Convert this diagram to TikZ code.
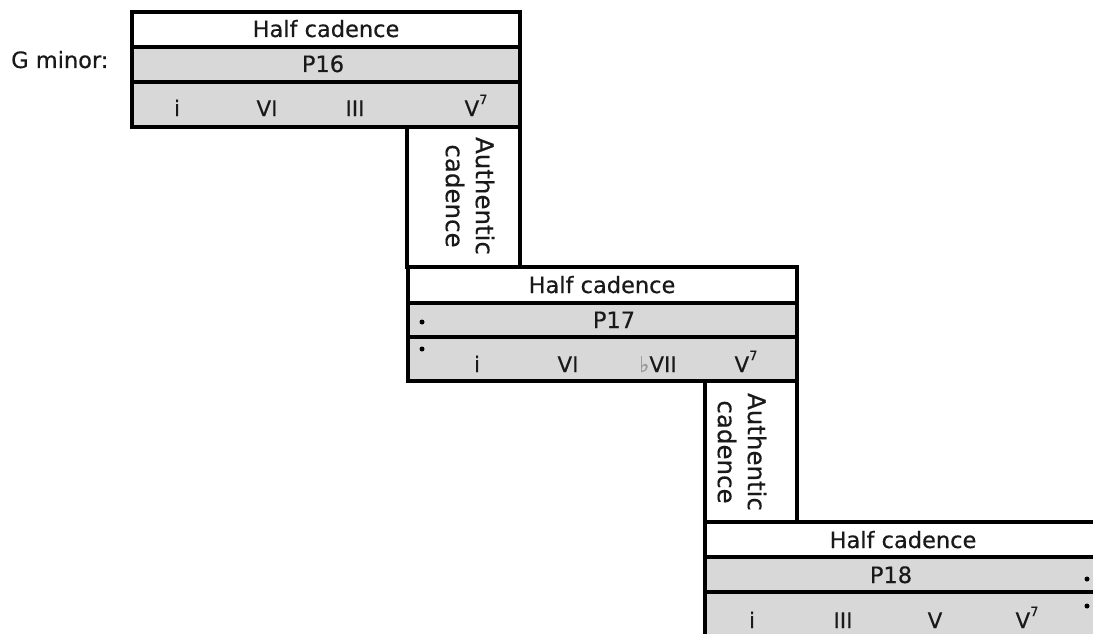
\documentclass[tikz,border=0pt]{standalone}
\usepackage{fontspec}
\setmainfont{DejaVu Sans}[FakeBold=0.4]
\definecolor{rowgray}{RGB}{216,216,216}
\definecolor{txt}{RGB}{25,25,25}
\definecolor{flatgray}{RGB}{150,150,150}
\tikzset{
  frame/.style={draw=black, line width=3.3pt},
  lbl/.style={anchor=base, inner sep=0pt, text=txt, font=\fontsize{22.5}{26}\selectfont},
  chord/.style={anchor=base, inner sep=0pt, text=txt, font=\fontsize{21.5}{26}\selectfont},
  rot/.style={rotate=-90, align=center, inner sep=0pt, text=txt, font=\fontsize{24.5}{30}\selectfont},
  dotmark/.style={circle, fill=black, inner sep=0pt, minimum size=5pt}
}
\newcommand{\sev}{\raisebox{0.55em}{\fontsize{13}{13}\selectfont 7}}
\begin{document}
\begin{tikzpicture}[x=1pt,y=-1pt]
\path[use as bounding box] (0,0) rectangle (1093,634);
\clip (0,0) rectangle (1093,634);
% ---------- Block 1 ----------
\fill[rowgray] (132,47) rectangle (520,127);
\draw[frame] (132,12) rectangle (520,127);
\draw[frame] (132,47) -- (520,47);
\draw[frame] (132,82) -- (520,82);
\node[lbl] (hc1) at (326,37) {Half cadence};
\node[lbl] (p16) at (323,72) {P16};
\node[lbl, anchor=base west] (key) at (11,68) {G minor:};
\node[chord] (c11) at (177,116) {i};
\node[chord] (c12) at (267,116) {VI};
\node[chord] (c13) at (355,116) {III};
\node[chord] (c14) at (476,116) {V\sev};
% ---------- Authentic 1 ----------
\draw[frame] (407,127) rectangle (520,267);
\node[rot] (ac1) at (470,196) {Authentic\\cadence};
% ---------- Block 2 ----------
\fill[rowgray] (408,303) rectangle (797,381);
\draw[frame] (408,267) rectangle (797,381);
\draw[frame] (408,303) -- (797,303);
\draw[frame] (408,337) -- (797,337);
\node[lbl] (hc2) at (602,293) {Half cadence};
\node[lbl] (p17) at (614,328) {P17};
\node[dotmark] (d21) at (422,322) {};
\node[dotmark] (d22) at (422,349) {};
\node[chord] (c21) at (477,372) {i};
\node[chord] (c22) at (568,372) {VI};
\node[chord] (c23) at (658,372) {\textcolor{flatgray}{♭}VII};
\node[chord] (c24) at (746,372) {V\sev};
% ---------- Authentic 2 ----------
\draw[frame] (705,381) rectangle (797,522);
\node[rot] (ac2) at (742,452) {Authentic\\cadence};
% ---------- Block 3 ----------
\fill[rowgray] (705,557) rectangle (1100,640);
\draw[frame] (705,522) rectangle (1100,640);
\draw[frame] (705,557) -- (1100,557);
\draw[frame] (705,592) -- (1100,592);
\node[lbl] (hc3) at (903,548) {Half cadence};
\node[lbl] (p18) at (891,583) {P18};
\node[dotmark] (d31) at (1087,579) {};
\node[dotmark] (d32) at (1087,606) {};
\node[chord] (c31) at (752,628) {i};
\node[chord] (c32) at (843,628) {III};
\node[chord] (c33) at (935,628) {V};
\node[chord] (c34) at (1027,628) {V\sev};
\end{tikzpicture}
\end{document}
